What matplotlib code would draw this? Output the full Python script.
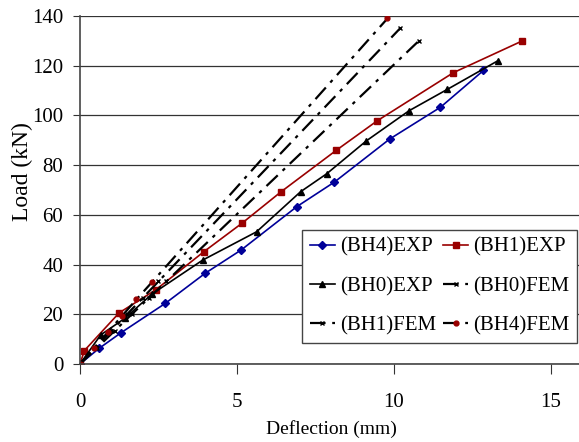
import matplotlib
matplotlib.use("Agg")
import matplotlib.pyplot as plt

plt.rcParams["font.family"] = ["Liberation Serif", "DejaVu Serif"]

# experimental load-deflection curves
bh4_exp_x = [0, 0.61, 1.31, 2.72, 3.99, 5.14, 6.91, 8.11, 9.87, 11.49, 12.86]
bh4_exp_y = [0, 6.3, 12.6, 24.4, 36.5, 45.9, 63.3, 73.2, 90.5, 103.3, 118.1]

bh1_exp_x = [0, 0.14, 1.25, 2.41, 3.95, 5.16, 6.41, 8.16, 9.48, 11.9, 14.1]
bh1_exp_y = [0, 5.4, 20.6, 29.8, 45.2, 56.6, 69.3, 85.9, 97.9, 117.2, 130.0]

bh0_exp_x = [0, 0.66, 1.43, 2.28, 3.91, 5.63, 7.03, 7.86, 9.13, 10.49, 11.71, 13.32]
bh0_exp_y = [0, 11.7, 18.4, 28.0, 41.8, 53.2, 69.3, 76.5, 89.8, 101.9, 110.5, 122.0]

# finite element curves
bh0_fem_x = [0, 0.5, 1.0, 1.5, 2.0, 2.5, 10.2]
bh0_fem_y = [0, 6.6, 13.3, 20.0, 26.6, 33.2, 135.0]

bh1_fem_x = [0, 0.55, 1.1, 1.65, 2.2, 2.75, 10.8]
bh1_fem_y = [0, 6.6, 13.3, 20.0, 26.6, 33.2, 130.0]

bh4_fem_x = [0, 0.45, 0.9, 1.35, 1.8, 2.3, 9.8]
bh4_fem_y = [0, 6.5, 13.0, 19.5, 26.0, 33.0, 139.0]

x_ticks = [0, 5, 10, 15]
y_ticks = [0, 20, 40, 60, 80, 100, 120, 140]

blue = "#000099"
red = "#990000"
fem_dash = (0, (7, 3, 1.5, 3))

fig = plt.figure(figsize=(5.79, 4.42), dpi=100)
ax = fig.add_axes([80 / 579, 78 / 442, 502 / 579, 348 / 442])

h_bh4e, = ax.plot(bh4_exp_x, bh4_exp_y, color=blue, lw=1.2, marker="D", ms=4,
                  label="(BH4)EXP")
h_bh1e, = ax.plot(bh1_exp_x, bh1_exp_y, color=red, lw=1.2, marker="s", ms=4.5,
                  label="(BH1)EXP")
h_bh0e, = ax.plot(bh0_exp_x, bh0_exp_y, color="black", lw=1.2, marker="^", ms=4.5,
                  label="(BH0)EXP")
h_bh0f, = ax.plot(bh0_fem_x, bh0_fem_y, color="black", lw=1.6, ls=fem_dash,
                  marker="x", ms=3.5, mew=1, label="(BH0)FEM")
h_bh1f, = ax.plot(bh1_fem_x, bh1_fem_y, color="black", lw=1.6, ls=fem_dash,
                  marker="x", ms=3.5, mew=1, label="(BH1)FEM")
h_bh4f, = ax.plot(bh4_fem_x, bh4_fem_y, color="black", lw=1.6, ls=fem_dash,
                  marker="o", ms=3.5, mfc=red, mec=red, label="(BH4)FEM")

ax.set_xlim(0, 16)
ax.set_ylim(0, 140)
ax.set_xticks(x_ticks)
ax.set_yticks(y_ticks)
ax.tick_params(axis="both", direction="out", labelsize=15, color="#333333")
ax.tick_params(axis="x", length=7, pad=14)
ax.tick_params(axis="y", length=5, pad=7)

ax.yaxis.grid(True, color="#333333", lw=0.9)
ax.set_axisbelow(True)
for side in ["top", "right"]:
    ax.spines[side].set_visible(False)
ax.spines["left"].set_color("#444444")
ax.spines["bottom"].set_color("#444444")
ax.spines["left"].set_linewidth(1.2)
ax.spines["bottom"].set_linewidth(1.2)

ax.set_xlabel("Deflection (mm)", fontsize=14, labelpad=6)
fig.text(22 / 579, 1 - 172 / 442, "Load (kN)", rotation=90, fontsize=17,
         ha="center", va="center")

handles = [h_bh4e, h_bh0e, h_bh1f, h_bh1e, h_bh0f, h_bh4f]
leg = ax.legend(handles=handles, ncol=2, loc="upper right",
                bbox_to_anchor=(577 / 579, (442 - 230) / 442),
                bbox_transform=fig.transFigure, borderaxespad=0,
                fontsize=15, handlelength=1.2, handletextpad=0.25,
                columnspacing=0.35, labelspacing=0.95, borderpad=0.35,
                frameon=True, fancybox=False, edgecolor="#444444",
                framealpha=1)
leg.get_frame().set_linewidth(1.0)

fig.savefig("out.png", dpi=100)
